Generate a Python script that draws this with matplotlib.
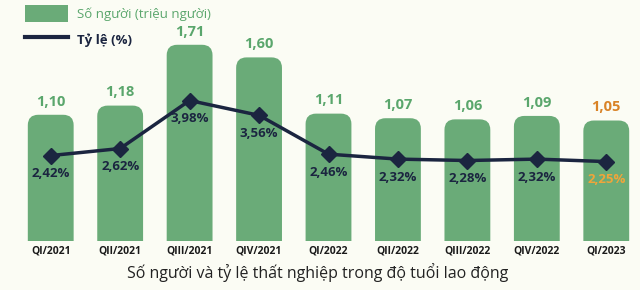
import matplotlib.pyplot as plt
from matplotlib.patches import FancyBboxPatch
from matplotlib.lines import Line2D
from matplotlib.patches import Patch

quarters = ['QI/2021', 'QII/2021', 'QIII/2021', 'QIV/2021', 'QI/2022',
            'QII/2022', 'QIII/2022', 'QIV/2022', 'QI/2023']
nguoi = [1.10, 1.18, 1.71, 1.60, 1.11, 1.07, 1.06, 1.09, 1.05]
ty_le = [2.42, 2.62, 3.98, 3.56, 2.46, 2.32, 2.28, 2.32, 2.25]

bg = '#fbfcf4'
green = '#6aab78'
green_txt = '#5aa66c'
navy = '#1b2540'
orange = '#d98327'
orange_lt = '#f0a53a'

plt.rcParams['font.family'] = ['Open Sans', 'DejaVu Sans']

fig = plt.figure(figsize=(6.4, 2.9), dpi=100, facecolor=bg)
ax = fig.add_axes([16 / 640, 49 / 290, 625 / 640, 229.5 / 290])
ax.set_facecolor(bg)
ax.set_xlim(-0.5, 8.5)
ax.set_ylim(0, 2.0)

# bars with rounded tops (x px/unit ~69.5, y px/unit ~114.75)
x = list(range(len(quarters)))
bars = ax.bar(x, nguoi, width=0.66, color='none')
asp = (1 / 114.75) / (1 / 69.5)
for b in bars:
    p = FancyBboxPatch((b.get_x(), -0.2), b.get_width(), b.get_height() + 0.2,
                       boxstyle='round,pad=0,rounding_size=0.15',
                       mutation_aspect=asp, fc=green, ec='none', zorder=2)
    ax.add_patch(p)

for i, v in enumerate(nguoi):
    c = orange if i == len(nguoi) - 1 else green_txt
    ax.annotate(f'{v:.2f}'.replace('.', ','), (i, v), xytext=(0, 9.5),
                textcoords='offset points', ha='center', va='center',
                fontsize=10.5, fontweight='bold', color=c)

ax2 = ax.twinx()
ax2.set_ylim(0, 229.5 / 35.3)
ax2.plot(x, ty_le, color=navy, lw=2.5, marker='D', markersize=8, zorder=5)
for i, v in enumerate(ty_le):
    c = orange_lt if i == len(ty_le) - 1 else navy
    ax2.annotate(f'{v:.2f}%'.replace('.', ','), (i, v), xytext=(0, -13),
                 textcoords='offset points', ha='center', va='center',
                 fontsize=9.5, fontweight='bold', color=c)

for a in (ax, ax2):
    for s in a.spines.values():
        s.set_visible(False)
    a.tick_params(length=0)
ax2.set_yticks([])
ax.set_yticks([])
ax.set_xticks(x)
ax.set_xticklabels(quarters, fontsize=7.5, fontweight='bold', color='#1a1a1a')
ax.tick_params(axis='x', pad=3)

handles = [Patch(fc=green, ec='none'), Line2D([], [], color=navy, lw=3)]
leg = fig.legend(handles, ['Số người (triệu người)', 'Tỷ lệ (%)'],
                 loc='upper left', bbox_to_anchor=(0.02, 1.025), frameon=False,
                 fontsize=9.5, handlelength=3.3, handleheight=1.7,
                 labelspacing=0.6, handletextpad=0.7)
t1, t2 = leg.get_texts()
t1.set_color(green_txt)
t2.set_color(navy)
t2.set_fontweight('bold')

fig.text(0.497, 0.06, 'Số người và tỷ lệ thất nghiệp trong độ tuổi lao động',
         ha='center', va='center', fontsize=11.5, color='#222222')

fig.savefig('out.png', dpi=100, facecolor=bg)
